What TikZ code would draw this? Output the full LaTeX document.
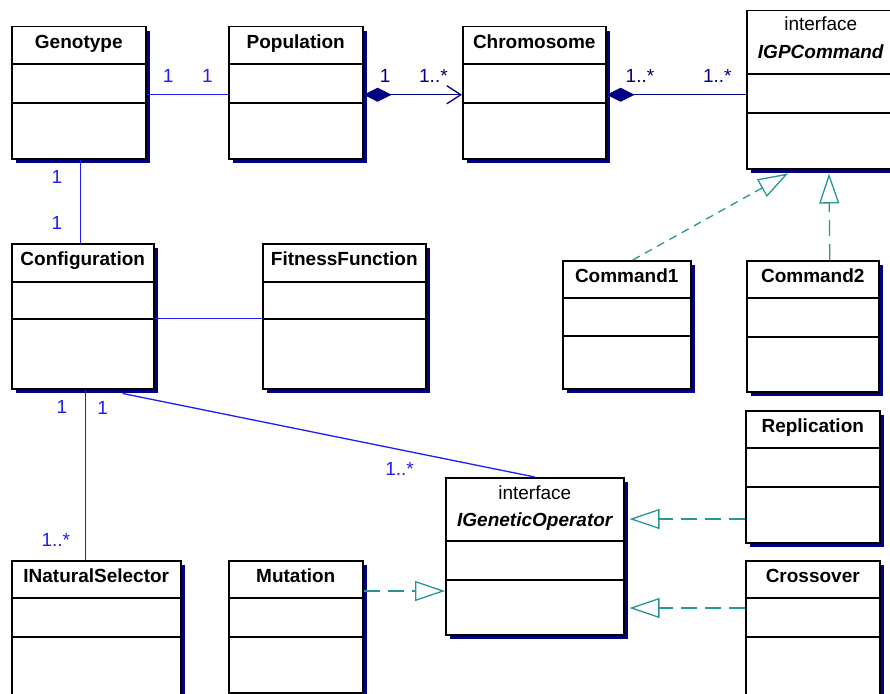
\documentclass[tikz,border=0pt]{standalone}
\usepackage{fontspec}
\setmainfont{Liberation Sans}
\usetikzlibrary{arrows.meta,shadows}
\definecolor{umlnavy}{RGB}{0,0,128}
\definecolor{umlblue}{RGB}{30,30,250}
\definecolor{umlteal}{RGB}{40,150,150}

\begin{document}
\begin{tikzpicture}[x=1pt,y=-1pt]
            \tikzstyle{class node}=[draw,rectangle,line width=1.5pt,inner sep=0pt,anchor=north west,fill=white,
                drop shadow={shadow xshift=4pt,shadow yshift=-4pt,fill=umlnavy,opacity=1}]
            \tikzstyle{title}=[anchor=base,inner sep=0pt,yshift=-22.5pt,font=\fontsize{19}{22}\selectfont\bfseries]
            \tikzstyle{stereo}=[anchor=base,inner sep=0pt,font=\fontsize{19}{22}\selectfont]
            \tikzstyle{mult}=[inner sep=0pt,font=\fontsize{19}{22}\selectfont]
            \tikzstyle{assoc}=[umlblue,line width=1.3pt]
            \tikzstyle{compose}=[umlnavy,line width=1.3pt]
            \tikzstyle{realize}=[umlteal,line width=1.3pt,dash pattern=on 16pt off 8pt,-{Triangle[open,length=30pt,width=20pt]}]

            \fill[white] (0,0) rectangle (890,693);
            \useasboundingbox (0,0) rectangle (890,693);

            % classes
            \node[class node,minimum width=134pt,minimum height=132pt,label={[title]north:Genotype}] (genotype) at (11,26) {};
            \node[class node,minimum width=134pt,minimum height=132pt,label={[title]north:Population}] (population) at (228,26) {};
            \node[class node,minimum width=143pt,minimum height=132pt,label={[title]north:Chromosome}] (chromosome) at (462,26) {};
            \node[class node,minimum width=148pt,minimum height=158pt,
                label={[stereo,yshift=-21pt]north:interface},
                label={[stereo,yshift=-48pt,font=\fontsize{19}{22}\selectfont\bfseries\itshape]north:IGPCommand}] (igpcommand) at (746,10) {};
            \node[class node,minimum width=142pt,minimum height=145pt,label={[title]north:Configuration}] (configuration) at (11,243) {};
            \node[class node,minimum width=163pt,minimum height=145pt,label={[title]north:FitnessFunction}] (fitness) at (262,243) {};
            \node[class node,minimum width=128pt,minimum height=128pt,label={[title]north:Command1}] (command1) at (562,260) {};
            \node[class node,minimum width=132pt,minimum height=131pt,label={[title]north:Command2}] (command2) at (746,260) {};
            \node[class node,minimum width=134pt,minimum height=132pt,label={[title]north:Replication}] (replication) at (745,410) {};
            \node[class node,minimum width=178pt,minimum height=157pt,
                label={[stereo,yshift=-22pt]north:interface},
                label={[stereo,yshift=-49pt,font=\fontsize{19}{22}\selectfont\bfseries\itshape]north:IGeneticOperator}] (geneticop) at (445,477) {};
            \node[class node,minimum width=169pt,minimum height=140pt,label={[title]north:INaturalSelector}] (selector) at (11,560) {};
            \node[class node,minimum width=134pt,minimum height=132pt,label={[title]north:Mutation}] (mutation) at (228,560) {};
            \node[class node,minimum width=134pt,minimum height=140pt,label={[title]north:Crossover}] (crossover) at (745,560) {};

            % compartments
            \foreach \n/\a/\b in {genotype/38/77,population/38/77,chromosome/38/77,igpcommand/64/103,
                configuration/39/76,fitness/39/76,command1/38/76,command2/38/77,replication/38/77,
                geneticop/64/103,selector/38/77,mutation/38/77,crossover/38/77}
            {
                \draw[line width=1.5pt] ([yshift=-\a pt]\n.north west) -- ([yshift=-\a pt]\n.north east);
                \draw[line width=1.5pt] ([yshift=-\b pt]\n.north west) -- ([yshift=-\b pt]\n.north east);
            }

            % associations
            \draw[assoc] ([yshift=-2pt]genotype.east) -- ([yshift=-2pt]population.west)
                node[mult,pos=0.265,above=12pt] {1}
                node[mult,pos=0.747,above=12pt] {1};
            \draw[compose,{Diamond[length=28pt,width=14pt]}-{Straight Barb[length=14pt,width=18pt]}]
                ([yshift=-2pt]population.east) -- ([yshift=-2pt]chromosome.west)
                node[mult,pos=0.22,above=12pt] {1}
                node[mult,pos=0.71,above=12pt] {1..*};
            \draw[compose,{Diamond[length=28pt,width=14pt]}-]
                ([yshift=-2pt]chromosome.east) -- ([yshift=-2pt]chromosome.east -| igpcommand.west)
                node[mult,pos=0.24,above=12pt] {1..*}
                node[mult,pos=0.794,above=12pt] {1..*};
            \draw[assoc] ([xshift=2pt]genotype.south) -- ([xshift=2pt]genotype.south |- configuration.north)
                node[mult,pos=0.21,left=18pt] {1}
                node[mult,pos=0.765,left=18pt] {1};
            \draw[assoc] ([yshift=-2.5pt]configuration.east) -- ([yshift=-2.5pt]fitness.west);
            \draw[assoc] ([xshift=3pt]configuration.south) -- ([xshift=3pt]configuration.south |- selector.north)
                node[mult,pos=0.105,left=18pt] {1}
                node[mult,pos=0.884,left=15pt] {1..*};
            \draw[assoc] ([xshift=40pt,yshift=-4pt]configuration.south) -- (geneticop.north)
                node[mult,pos=0,xshift=-20pt,yshift=-14pt] {1}
                node[mult,pos=0.672,below=12pt] {1..*};

            % realizations
            \draw[realize,dash pattern=on 8pt off 6pt] ([xshift=6pt]command1.north) -- ([xshift=42pt,yshift=-4pt]igpcommand.south west);
            \draw[realize] ([xshift=17pt]command2.north) -- ([xshift=83pt,yshift=-4pt]igpcommand.south west);
            \draw[realize] ([yshift=-31pt]mutation.north east) -- ([yshift=-114pt]geneticop.north west);
            \draw[realize] ([yshift=-109pt]replication.north west) -- ([xshift=5pt,yshift=-42pt]geneticop.north east);
            \draw[realize] ([yshift=-48pt]crossover.north west) -- ([xshift=5pt,yshift=-131pt]geneticop.north east);
        \end{tikzpicture}
\end{document}
